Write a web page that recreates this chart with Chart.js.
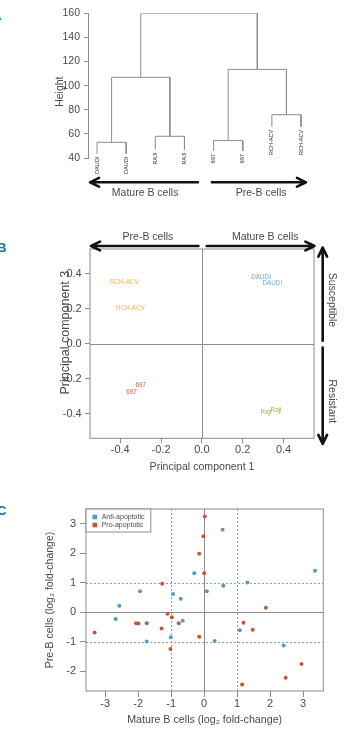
<!DOCTYPE html>
<html>
<head>
<meta charset="utf-8">
<script src="https://cdn.jsdelivr.net/npm/chart.js@4.4.1/dist/chart.umd.min.js"></script>
<style>
html, body { margin: 0; padding: 0; background: #fff; }
body { width: 344px; height: 737px; position: relative; overflow: hidden; }
canvas { position: absolute; left: 0; }
.tag { position: absolute; font: bold 13px "Liberation Sans", Arial, sans-serif; color: #1f6fa8; }
</style>
</head>
<body>
<div class="tag" style="left:-8px;top:8px">A</div>
<div class="tag" style="left:-3px;top:240px">B</div>
<div class="tag" style="left:-3px;top:503px">C</div>
<canvas id="dendro" width="344" height="210" style="top:0"></canvas>
<canvas id="pca" width="344" height="265" style="top:210px"></canvas>
<canvas id="fold" width="344" height="262" style="top:475px"></canvas>
<script>
const fontFamily = '"Liberation Sans", Arial, sans-serif';
const textGrey = '#4a4a4a';
const lineGrey = '#8c8c8c';
Chart.defaults.font.family = fontFamily;
Chart.defaults.color = textGrey;

// A - hierarchical clustering (R style merge table, negative = leaf)
const leafNames = ['DAUDI', 'DAUDI', 'RAJI', 'RAJI', '697', '697', 'RCH-ACV', 'RCH-ACV'];
const leafHeights = [43.5, 43.5, 47, 47, 45.8, 45.8, 65.8, 65.8];
const mergeLeft = [-1, -3, -5, -7, 1, 3, 5];
const mergeRight = [-2, -4, -6, -8, 2, 4, 6];
const mergeHeights = [53, 58, 54.4, 75.9, 106.9, 113.5, 160];

// B - PCA
const pcaNames = ['RCH-ACV', 'RCH-ACV', 'DAUDI', 'DAUDI', '697', '697', 'Raji', 'Raji'];
const pc1 = [-0.38, -0.35, 0.29, 0.345, -0.30, -0.345, 0.313, 0.363];
const pc3 = [0.35, 0.20, 0.38, 0.345, -0.24, -0.28, -0.39, -0.38];

// C - fold changes
const antiX = [0.56, -0.30, 3.36, 0.58, 1.31, -1.94, -0.94, -0.71, 0.08, -2.57, -2.68, -0.65, 1.08, -1.01, 0.32, -1.74, 2.41];
const antiY = [2.79, 1.32, 1.40, 0.90, 1.01, 0.71, 0.62, 0.46, 0.71, 0.22, -0.23, -0.29, -0.61, -0.84, -0.97, -0.99, -1.12];
const proX = [0.02, -0.02, -0.15, 0.0, -1.27, 1.87, -1.11, -0.98, -2.06, -1.99, -1.74, -0.77, 1.19, -1.29, 1.47, -3.32, -0.15, -1.02, 2.95, 2.47, 1.15];
const proY = [3.24, 2.57, 1.98, 1.32, 0.96, 0.15, -0.05, -0.17, -0.37, -0.38, -0.37, -0.37, -0.35, -0.55, -0.59, -0.68, -0.83, -1.24, -1.75, -2.21, -2.44];

const groupColor = { 'RCH-ACV': '#f0b247', 'DAUDI': '#6fa6d6', '697': '#d65a4e', 'Raji': '#8cc43c' };

function drawArrow(ctx, x1, y1, x2, y2) {
  const ang = Math.atan2(y2 - y1, x2 - x1), len = 10, spread = 0.45;
  ctx.save();
  ctx.strokeStyle = '#111';
  ctx.lineWidth = 2.6;
  ctx.lineCap = 'round';
  ctx.lineJoin = 'round';
  ctx.beginPath();
  ctx.moveTo(x1, y1);
  ctx.lineTo(x2, y2);
  ctx.moveTo(x2 - len * Math.cos(ang - spread), y2 - len * Math.sin(ang - spread));
  ctx.lineTo(x2, y2);
  ctx.lineTo(x2 - len * Math.cos(ang + spread), y2 - len * Math.sin(ang + spread));
  ctx.stroke();
  ctx.restore();
}

function rotatedText(ctx, text, x, y, angle) {
  ctx.save();
  ctx.translate(x, y);
  ctx.rotate(angle);
  ctx.fillText(text, 0, 0);
  ctx.restore();
}

// ---------- A ----------
const nodeX = [];
function nodeOf(id) {
  return id < 0 ? { x: -id, h: leafHeights[-id - 1] } : { x: nodeX[id - 1], h: mergeHeights[id - 1] };
}
const links = mergeHeights.map((h, i) => {
  const a = nodeOf(mergeLeft[i]), b = nodeOf(mergeRight[i]);
  nodeX[i] = (a.x + b.x) / 2;
  return [{ x: a.x, y: a.h }, { x: a.x, y: h }, { x: b.x, y: h }, { x: b.x, y: b.h }];
});

const dendroDecor = {
  id: 'dendroDecor',
  afterDraw(chart) {
    const { ctx, chartArea: a, scales: { x, y } } = chart;
    ctx.save();
    ctx.fillStyle = '#333';
    ctx.font = '5.5px ' + fontFamily;
    ctx.textAlign = 'right';
    ctx.textBaseline = 'middle';
    leafNames.forEach((name, i) => {
      rotatedText(ctx, name, x.getPixelForValue(i + 1), y.getPixelForValue(leafHeights[i]) + 3, -Math.PI / 2);
    });
    const ay = a.bottom + 24.3;
    drawArrow(ctx, x.getPixelForValue(4.46), ay, x.getPixelForValue(0.76), ay);
    drawArrow(ctx, x.getPixelForValue(4.94), ay, x.getPixelForValue(8.17), ay);
    ctx.font = '10.5px ' + fontFamily;
    ctx.fillStyle = textGrey;
    ctx.textAlign = 'center';
    ctx.fillText('Mature B cells', x.getPixelForValue(2.65), a.bottom + 35);
    ctx.fillText('Pre-B cells', x.getPixelForValue(6.63), a.bottom + 35);
    // axis title, sits a little below the axis centre as in the figure
    rotatedText(ctx, 'Height', 60, y.getPixelForValue(95), -Math.PI / 2);
    ctx.restore();
  }
};

new Chart(document.getElementById('dendro'), {
  type: 'scatter',
  data: {
    datasets: links.map(pts => ({
      data: pts, showLine: true, borderColor: lineGrey, borderWidth: 1, pointRadius: 0
    }))
  },
  options: {
    responsive: false,
    animation: false,
    layout: { padding: { left: 45, right: 28.4, top: 13.3, bottom: 52 } },
    plugins: { legend: { display: false }, tooltip: { enabled: false } },
    scales: {
      x: { type: 'linear', display: false, min: 0.69, max: 8.5 },
      y: {
        min: 40, max: 160,
        ticks: { stepSize: 20, padding: 4, color: textGrey, font: { size: 10.5 } },
        grid: { drawOnChartArea: false, tickLength: 4, tickColor: lineGrey },
        border: { color: lineGrey },
        afterFit: s => { s.width = 43; }
      }
    }
  },
  plugins: [dendroDecor]
});

// ---------- B ----------
const pcaDecor = {
  id: 'pcaDecor',
  beforeDatasetsDraw(chart) {
    const { ctx, chartArea: a, scales: { x, y } } = chart;
    ctx.save();
    ctx.strokeStyle = lineGrey;
    ctx.lineWidth = 1;
    ctx.beginPath();
    const x0 = Math.round(x.getPixelForValue(0)) + 0.5, y0 = Math.round(y.getPixelForValue(0)) + 0.5;
    ctx.moveTo(x0, a.top); ctx.lineTo(x0, a.bottom);
    ctx.moveTo(a.left, y0); ctx.lineTo(a.right, y0);
    ctx.stroke();
    ctx.strokeRect(a.left, a.top, a.width, a.height);
    ctx.restore();
  },
  afterDraw(chart) {
    const { ctx, chartArea: a, scales: { x, y } } = chart;
    const meta = chart.getDatasetMeta(0);
    ctx.save();
    ctx.font = '6.3px ' + fontFamily;
    ctx.textAlign = 'center';
    ctx.textBaseline = 'middle';
    meta.data.forEach((pt, i) => {
      ctx.fillStyle = groupColor[pcaNames[i]];
      ctx.fillText(pcaNames[i], pt.x, pt.y);
    });
    // group arrows
    const ty = a.top - 3;
    drawArrow(ctx, x.getPixelForValue(-0.017), ty, x.getPixelForValue(-0.543), ty);
    drawArrow(ctx, x.getPixelForValue(0.024), ty, x.getPixelForValue(0.551), ty);
    const rx = a.right + 8.7;
    drawArrow(ctx, rx, y.getPixelForValue(0.017), rx, y.getPixelForValue(0.549));
    drawArrow(ctx, rx, y.getPixelForValue(-0.023), rx, y.getPixelForValue(-0.573));
    ctx.font = '10.5px ' + fontFamily;
    ctx.fillStyle = textGrey;
    ctx.fillText('Pre-B cells', x.getPixelForValue(-0.264), a.top - 12.3);
    ctx.fillText('Mature B cells', x.getPixelForValue(0.31), a.top - 12.3);
    rotatedText(ctx, 'Susceptible', a.right + 18, y.getPixelForValue(0.25), Math.PI / 2);
    rotatedText(ctx, 'Resistant', a.right + 18, y.getPixelForValue(-0.33), Math.PI / 2);
    ctx.font = '12.5px ' + fontFamily;
    rotatedText(ctx, 'Principal component 3', 65.3, y.getPixelForValue(0.063), -Math.PI / 2);
    ctx.restore();
  }
};

new Chart(document.getElementById('pca'), {
  type: 'scatter',
  data: {
    datasets: [{ data: pc1.map((v, i) => ({ x: v, y: pc3[i] })), pointRadius: 0 }]
  },
  options: {
    responsive: false,
    animation: false,
    layout: { padding: { left: 50, right: 30, top: 39, bottom: 0 } },
    plugins: { legend: { display: false }, tooltip: { enabled: false } },
    scales: {
      x: {
        min: -0.548, max: 0.549,
        ticks: { stepSize: 0.2, includeBounds: false, autoSkip: false, padding: 0, color: textGrey, font: { size: 11 }, callback: v => v.toFixed(1) },
        grid: { drawOnChartArea: false, tickLength: 5, tickColor: lineGrey },
        border: { display: false },
        title: { display: true, text: 'Principal component 1', color: textGrey, font: { size: 10.6 }, padding: { top: 0, bottom: 1.7 } },
        afterFit: s => { s.height = 36.7; }
      },
      y: {
        min: -0.541, max: 0.541,
        ticks: { stepSize: 0.2, includeBounds: false, autoSkip: false, padding: 3.3, color: textGrey, font: { size: 11 }, callback: v => v.toFixed(1) },
        grid: { drawOnChartArea: false, tickLength: 5, tickColor: lineGrey },
        border: { display: false },
        afterFit: s => { s.width = 40; }
      }
    }
  },
  plugins: [pcaDecor]
});

// ---------- C ----------
const foldDecor = {
  id: 'foldDecor',
  beforeDatasetsDraw(chart) {
    const { ctx, chartArea: a, scales: { x, y } } = chart;
    ctx.save();
    ctx.lineWidth = 1;
    ctx.strokeStyle = '#9a9a9a';
    ctx.setLineDash([2, 2]);
    ctx.beginPath();
    [-1, 1].forEach(v => {
      const px = Math.round(x.getPixelForValue(v)) + 0.5, py = Math.round(y.getPixelForValue(v)) + 0.5;
      ctx.moveTo(px, a.top); ctx.lineTo(px, a.bottom);
      ctx.moveTo(a.left, py); ctx.lineTo(a.right, py);
    });
    ctx.stroke();
    ctx.setLineDash([]);
    ctx.strokeStyle = lineGrey;
    ctx.beginPath();
    const x0 = Math.round(x.getPixelForValue(0)) + 0.5, y0 = Math.round(y.getPixelForValue(0)) + 0.5;
    ctx.moveTo(x0, a.top); ctx.lineTo(x0, a.bottom);
    ctx.moveTo(a.left, y0); ctx.lineTo(a.right, y0);
    ctx.stroke();
    ctx.strokeRect(a.left, a.top, a.width, a.height);
    ctx.restore();
  },
  afterDraw(chart) {
    const { ctx, chartArea: a } = chart;
    const sets = chart.data.datasets;
    ctx.save();
    ctx.font = '7px ' + fontFamily;
    const w = Math.max(...sets.map(d => ctx.measureText(d.label).width)) + 22;
    const h = 8 * sets.length + 7;
    ctx.fillStyle = '#fff';
    ctx.fillRect(a.left, a.top, w, h);
    ctx.strokeStyle = lineGrey;
    ctx.strokeRect(a.left, a.top, w, h);
    ctx.textBaseline = 'middle';
    sets.forEach((d, i) => {
      const cy = a.top + 8 + 8 * i;
      ctx.fillStyle = d.backgroundColor;
      ctx.fillRect(a.left + 6.5, cy - 2.3, 4.7, 4.6);
      ctx.fillStyle = textGrey;
      ctx.fillText(d.label, a.left + 15.7, cy);
    });
    ctx.restore();
  }
};

new Chart(document.getElementById('fold'), {
  type: 'scatter',
  data: {
    datasets: [
      { label: 'Anti-apoptotic', data: antiX.map((v, i) => ({ x: v, y: antiY[i] })), backgroundColor: '#5a97c6', borderWidth: 0, pointRadius: 2 },
      { label: 'Pro-apoptotic', data: proX.map((v, i) => ({ x: v, y: proY[i] })), backgroundColor: '#c4553a', borderWidth: 0, pointRadius: 2 }
    ]
  },
  options: {
    responsive: false,
    animation: false,
    layout: { padding: { left: 30, right: 20.7, top: 34, bottom: 0 } },
    plugins: { legend: { display: false }, tooltip: { enabled: false } },
    scales: {
      x: {
        min: -3.58, max: 3.61,
        ticks: { stepSize: 1, includeBounds: false, autoSkip: false, padding: 0.7, color: textGrey, font: { size: 11 } },
        grid: { drawOnChartArea: false, tickLength: 6, tickColor: lineGrey },
        border: { display: false },
        title: { display: true, text: 'Mature B cells (log₂ fold-change)', color: textGrey, font: { size: 10.7 }, padding: { top: 0, bottom: 10.4 } },
        afterFit: s => { s.height = 46; }
      },
      y: {
        min: -2.66, max: 3.49,
        ticks: { stepSize: 1, includeBounds: false, autoSkip: false, padding: 4, color: textGrey, font: { size: 11 } },
        grid: { drawOnChartArea: false, tickLength: 6, tickColor: lineGrey },
        border: { display: false },
        title: { display: true, text: 'Pre-B cells (log₂ fold-change)', color: textGrey, font: { size: 10.5 }, padding: { top: 13.4, bottom: 0 } },
        afterFit: s => { s.width = 56; }
      }
    }
  },
  plugins: [foldDecor]
});
</script>
</body>
</html>
